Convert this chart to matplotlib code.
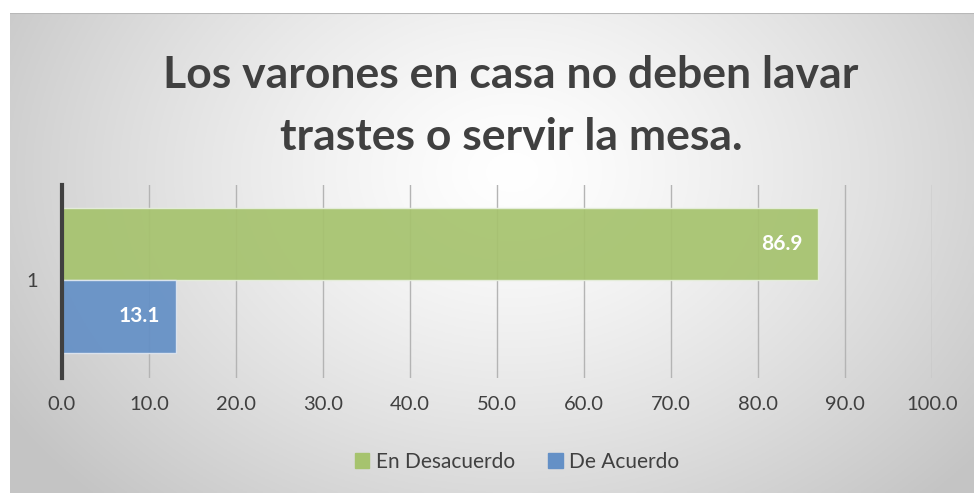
import numpy as np
import matplotlib
matplotlib.use("Agg")
import matplotlib.pyplot as plt
from matplotlib.ticker import FormatStrFormatter

plt.rcParams['font.family'] = ['Lato', 'DejaVu Sans']

title = "Los varones en casa no deben lavar\ntrastes o servir la mesa."
categories = ["1"]
series_names = ["En Desacuerdo", "De Acuerdo"]
series_values = [[86.9], [13.1]]
series_colors = ["#A6C36E", "#6490C6"]
x_ticks = [0, 10, 20, 30, 40, 50, 60, 70, 80, 90, 100]

W, H = 974, 493
fig = plt.figure(figsize=(W / 100, H / 100), dpi=100)
fig.patch.set_facecolor("white")

# Background radial gradient
bg = fig.add_axes([10 / W, 0, 1 - 10 / W, 1 - 13 / H], zorder=0)
ny, nx = 240, 480
yy, xx = np.mgrid[0:ny, 0:nx]
cx, cy = nx * 0.52, ny * 0.33
d = np.sqrt(((xx - cx) / (nx * 0.62)) ** 2 + ((yy - cy) / (ny * 0.95)) ** 2)
d = np.clip(d, 0, 1)
v = 1.0 - 0.23 * d ** 1.3
img = np.dstack([v, v, v])
bg.imshow(img, aspect="auto", extent=[0, 1, 0, 1], origin="upper")
bg.plot([0, 1], [1, 1], color="#b8b8b8", lw=1.5, transform=bg.transAxes)
bg.set_axis_off()

ax = fig.add_axes([62 / W, 1 - 378 / H, 870 / W, 193 / H], zorder=1)
ax.patch.set_alpha(0)

n = len(series_names)
bar_h = 1.0
offsets = [(n - 1) / 2 - i for i in range(n)]
for i, (name, vals, col) in enumerate(zip(series_names, series_values, series_colors)):
    ys = [j * n + offsets[i] * bar_h for j in range(len(categories))]
    bars = ax.barh(ys, vals, height=bar_h, color=col, edgecolor="#e6eedc" if i == 0 else "#dfe6f0",
                   linewidth=1.0, label=name, zorder=3, alpha=0.93)
    for b, val in zip(bars, vals):
        ax.text(b.get_width() - 1.8, b.get_y() + b.get_height() / 2, f"{val:.1f}",
                ha="right", va="center", color="white", fontsize=15, fontweight="bold", zorder=4)

ax.set_xlim(0, 100)
ax.set_ylim(-1.354, 1.326)
ax.set_xticks(x_ticks)
ax.xaxis.set_major_formatter(FormatStrFormatter("%.1f"))
ax.set_yticks([j * n for j in range(len(categories))])
ax.set_yticklabels(categories)
ax.grid(axis="x", color="#b4b4b4", lw=1.0, zorder=1)
ax.set_axisbelow(True)
for s in ["top", "right", "bottom"]:
    ax.spines[s].set_visible(False)
ax.spines["left"].set_color("#404040")
ax.spines["left"].set_linewidth(3)
ax.spines["left"].set_zorder(5)
ax.tick_params(axis="both", length=0, labelsize=14.5, colors="#404040")
ax.tick_params(axis="x", pad=13)
ax.tick_params(axis="y", pad=17)

fig.text(511 / W, 1 - 106 / H, title, ha="center", va="center", fontsize=32,
         fontweight="bold", color="#404040", linespacing=1.66)

handles = [plt.Rectangle((0, 0), 1, 1, color=c) for c in series_colors]
fig.legend(handles, series_names, loc="center", bbox_to_anchor=(517 / W, 1 - 462 / H),
           ncol=2, frameon=False, fontsize=15, handlelength=0.7, handleheight=0.7,
           handletextpad=0.3, columnspacing=1.6, labelcolor="#404040")

fig.savefig("out.png", dpi=100, facecolor=fig.get_facecolor())
